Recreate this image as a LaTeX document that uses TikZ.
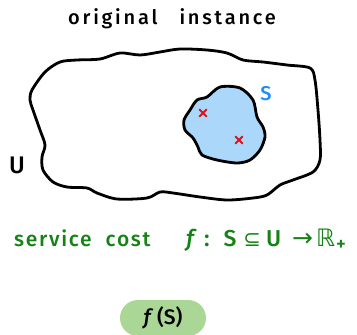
\documentclass[tikz,border=0pt]{standalone}
\usepackage{fontspec}
\setmainfont{Fira Sans Medium}
\newfontfamily\symf{DejaVu Sans}
\newfontfamily\spaced{Fira Sans Medium}[LetterSpace=14]
\newfontfamily\spacedg{Fira Sans Medium}[LetterSpace=8]
\definecolor{sblue}{RGB}{170,215,250}
\definecolor{slabel}{RGB}{30,140,255}
\definecolor{xred}{RGB}{220,20,30}
\definecolor{tgreen}{RGB}{20,130,20}
\definecolor{pill}{RGB}{170,215,150}
\tikzset{
  outline/.style={line width=2.8pt, line join=round},
  hand/.style={inner sep=0pt, anchor=center},
  cross/.style={xred, line width=2pt, line cap=round}
}
\begin{document}
\begin{tikzpicture}[x=1pt,y=-1pt]
\useasboundingbox (0,0) rectangle (357,335);
% universe blob U
\draw[outline] plot[smooth cycle, tension=0.5] coordinates {
 (32,90) (45,72) (60,62) (77,60) (100,59) (120,53) (140,55) (160,52) (180,49) (207,50)
 (227,53) (243,60) (263,62) (287,65) (310,68) (315,80) (318,110) (320,140) (320,160)
 (313,172) (293,180) (280,185) (267,195) (253,198) (227,200) (200,197) (173,193) (160,192)
 (147,198) (117,199) (97,193) (87,188) (67,187) (53,182) (43,170) (42,157) (45,145)
 (40,130) (33,110) (30,100)};
% subset blob S
\draw[outline, fill=sblue] plot[smooth cycle, tension=0.5] coordinates {
 (207,97) (220,87) (240,88) (253,100) (257,117) (263,127) (265,137) (260,150) (250,160)
 (237,163) (217,160) (202,155) (198,147) (193,138) (185,130) (184,120) (190,110) (197,100)};
% crosses
\coordinate (x1) at (203,113);
\coordinate (x2) at (239,140);
\draw[cross] ([shift={(-3.5,-3.5)}]x1) -- ([shift={(3.5,3.5)}]x1) ([shift={(-3.5,3.5)}]x1) -- ([shift={(3.5,-3.5)}]x1);
\draw[cross] ([shift={(-3.5,-3.5)}]x2) -- ([shift={(3.5,3.5)}]x2) ([shift={(-3.5,3.5)}]x2) -- ([shift={(3.5,-3.5)}]x2);
% labels
\node[hand, font=\spaced\fontsize{20}{20}\selectfont] (title) at (172,19) {original\hspace{22pt}instance};
\node[hand, text=slabel, font=\fontsize{20}{20}\selectfont] (slab) at (266,94) {S};
\node[hand, font=\fontsize{24}{24}\selectfont] (ulab) at (17,165) {U};
\node[inner sep=0pt, anchor=base west, text=tgreen, font=\spacedg\fontsize{21}{21}\selectfont] (cost) at (14,246)
 {service\hspace{14pt}cost};
\node[inner sep=0pt, anchor=base west, text=tgreen, font=\fontsize{23}{23}\selectfont] (formula) at (186,246)
 {\textit{f}\hspace{7pt}:\hspace{14pt}S\hspace{7pt}{\symf\fontsize{21}{21}\selectfont ⊆}\hspace{5pt}U\hspace{11pt}{\symf\fontsize{25}{25}\selectfont →}\hspace{3pt}{\symf\fontsize{24}{24}\selectfont ℝ}\hspace{1pt}\raisebox{-4pt}{\fontsize{19}{19}\selectfont +}};
\node[hand, fill=pill, rounded corners=18pt, minimum width=86pt, minimum height=36pt, font=\fontsize{21}{21}\selectfont] (fs) at (163,318) {\textit{f}\,(S)};
\end{tikzpicture}
\end{document}
